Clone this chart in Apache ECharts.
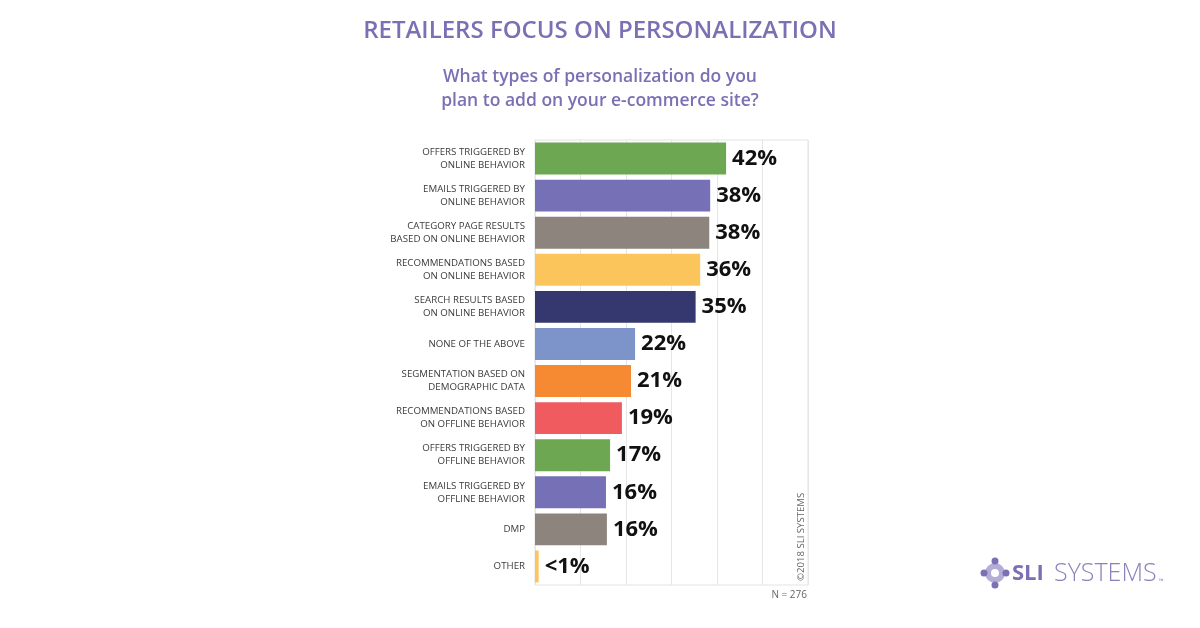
<!DOCTYPE html>
<html>
<head>
<meta charset="utf-8">
<script src="https://cdn.jsdelivr.net/npm/echarts@6/dist/echarts.min.js"></script>
<style>
  html, body { margin: 0; padding: 0; background: #fff; }
  #chart { width: 1200px; height: 628px; }
</style>
</head>
<body>
<div id="chart"></div>
<script>
// categories, top to bottom as in the picture
const categories = [
  'OFFERS TRIGGERED BY\nONLINE BEHAVIOR',
  'EMAILS TRIGGERED BY\nONLINE BEHAVIOR',
  'CATEGORY PAGE RESULTS\nBASED ON ONLINE BEHAVIOR',
  'RECOMMENDATIONS BASED\nON ONLINE BEHAVIOR',
  'SEARCH RESULTS BASED\nON ONLINE BEHAVIOR',
  'NONE OF THE ABOVE',
  'SEGMENTATION BASED ON\nDEMOGRAPHIC DATA',
  'RECOMMENDATIONS BASED\nON OFFLINE BEHAVIOR',
  'OFFERS TRIGGERED BY\nOFFLINE BEHAVIOR',
  'EMAILS TRIGGERED BY\nOFFLINE BEHAVIOR',
  'DMP',
  'OTHER'
];
const values = [42, 38.5, 38.3, 36.3, 35.3, 22, 21.1, 19.1, 16.5, 15.6, 15.8, 0.8];
const valueLabels = ['42%', '38%', '38%', '36%', '35%', '22%', '21%', '19%', '17%', '16%', '16%', '<1%'];
const barColors = ['#6ea751', '#7671b6', '#8c847d', '#fcc55b', '#35376f', '#7c94ca',
                   '#f68a33', '#ef5b5e', '#6ea751', '#7671b6', '#8c847d', '#fcc55b'];

const purple = '#7a70b3';
const font = '"Open Sans", Lato, sans-serif';

let myChart = echarts.init(document.getElementById('chart'));

let option = {
  backgroundColor: '#fff',
  animation: false,
  title: {
    text: 'RETAILERS FOCUS ON PERSONALIZATION',
    left: 'center', top: 14,
    textStyle: { color: purple, fontFamily: font, fontSize: 24, fontWeight: 600 }
  },
  grid: {
    left: 535, right: 392, top: 140, bottom: 43,
    show: true, borderColor: '#e3e3e3', borderWidth: 1
  },
  xAxis: {
    type: 'value', min: 0, max: 60, interval: 10,
    axisLabel: { show: false },
    axisLine: { show: false },
    axisTick: { show: false },
    splitLine: { lineStyle: { color: '#e6e6e6', width: 1 } }
  },
  yAxis: {
    type: 'category',
    data: categories,
    inverse: true,
    axisLine: { show: false },
    axisTick: { show: false },
    axisLabel: {
      margin: 10, color: '#3a3a3a', fontFamily: font, fontSize: 9.7, lineHeight: 13, align: 'right'
    }
  },
  series: [{
    type: 'bar',
    data: values.map((v, i) => ({ value: v, itemStyle: { color: barColors[i] } })),
    barCategoryGap: '14%',
    label: {
      show: true, position: 'right', distance: 6,
      formatter: p => valueLabels[p.dataIndex],
      color: '#111', fontFamily: font, fontSize: 22, fontWeight: 700
    }
  }],
  graphic: [
    {
      type: 'text', x: 600, y: 77,
      style: { text: 'What types of personalization do you', fill: purple, font: '600 17.5px ' + font, textAlign: 'center', textVerticalAlign: 'middle' }
    },
    {
      type: 'text', x: 600, y: 101,
      style: { text: 'plan to add on your e-commerce site?', fill: purple, font: '600 17.5px ' + font, textAlign: 'center', textVerticalAlign: 'middle' }
    },
    {
      type: 'text', x: 801, y: 581, rotation: Math.PI / 2,
      style: { text: '©2018 SLI SYSTEMS', fill: '#666', font: '9.6px ' + font, textAlign: 'left', textVerticalAlign: 'middle' }
    },
    {
      type: 'text', x: 807, y: 595,
      style: { text: 'N = 276', fill: '#666', font: '10px ' + font, textAlign: 'right', textVerticalAlign: 'middle' }
    },
    // logo icon
    { type: 'circle', shape: { cx: 995, cy: 573, r: 10 }, style: { fill: '#b4add6' } },
    { type: 'circle', shape: { cx: 995, cy: 561, r: 3.5 }, style: { fill: '#7a70b3' } },
    { type: 'circle', shape: { cx: 995, cy: 585, r: 3.5 }, style: { fill: '#7a70b3' } },
    { type: 'circle', shape: { cx: 984, cy: 573, r: 3.5 }, style: { fill: '#7a70b3' } },
    { type: 'circle', shape: { cx: 1006, cy: 573, r: 3.5 }, style: { fill: '#7a70b3' } },
    { type: 'circle', shape: { cx: 995, cy: 573, r: 4 }, style: { fill: '#fff' } },
    {
      type: 'text', x: 1012, y: 574,
      style: { text: 'SLI', fill: '#7a70b3', font: 'bold 22px ' + font, textVerticalAlign: 'middle' }
    },
    {
      type: 'text', x: 1054, y: 574,
      style: { text: 'SYSTEMS', fill: '#8a82bd', font: '300 25px ' + font, textVerticalAlign: 'middle' }
    },
    {
      type: 'text', x: 1159, y: 581,
      style: { text: '™', fill: '#8a82bd', font: '6px ' + font, textVerticalAlign: 'middle' }
    }
  ]
};

myChart.setOption(option);
</script>
</body>
</html>
